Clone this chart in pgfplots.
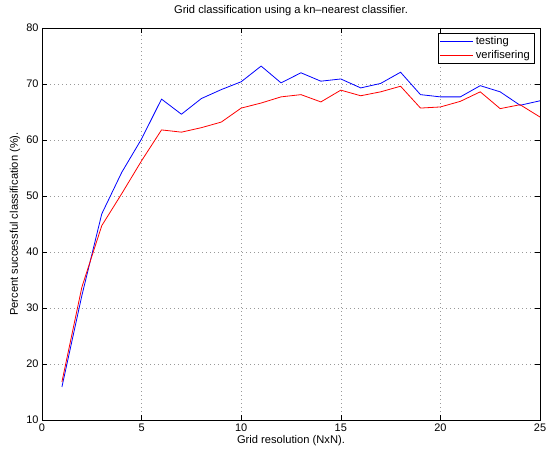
\documentclass[border=0pt]{standalone}
\usepackage{fontspec}
\setmainfont{Liberation Sans}
\usepackage{pgfplots}
\pgfplotsset{compat=1.18}
\pgfplotsset{
  bluelegline/.style={legend image code/.code={\draw[draw=blue, line width=0.8bp] (0bp,0bp) -- (33bp,0bp);}},
  redlegline/.style={legend image code/.code={\draw[draw=red, line width=0.8bp] (0bp,0bp) -- (33bp,0bp);}}
}
\begin{document}
\begin{tikzpicture}
\begin{axis}[
  scale only axis,
  width=498bp, height=392bp,
  xmin=0, xmax=25, ymin=10, ymax=80,
  xtick={0,5,...,25}, ytick={10,20,...,80},
  tick align=inside,
  xtick pos=both, ytick pos=both,
  major tick length=5bp,
  axis line style={line width=0.8bp},
  every tick/.style={black, line width=0.6bp},
  grid=major,
  grid style={gray!80, line width=0.6bp, dash pattern=on 1bp off 3bp},
  /pgf/number format/assume math mode=true,
  tick label style={font=\fontsize{11}{13}\selectfont},
  label style={font=\fontsize{11.2}{13}\selectfont},
  every axis title/.style={at={(axis description cs:0.5,1.0357)}, anchor=base, font=\fontsize{11.2}{13}\selectfont},
  title={Grid classification using a kn\textendash nearest classifier.},
  xlabel={Grid resolution (NxN).},
  ylabel={Percent successful classification (\%).},
  xlabel style={at={(axis description cs:0.5,-0.0536)}, anchor=center},
  ylabel style={at={(axis description cs:-0.054,0.5)}, anchor=center},
  legend style={at={(rel axis cs:1,1)}, anchor=north east, xshift=-6bp, yshift=-5bp,
    font=\fontsize{11.2}{13}\selectfont,
    inner xsep=2bp, inner ysep=1.5bp, row sep=0bp},
  legend cell align=left,
]
\addplot[draw=blue, line width=0.8bp, bluelegline] coordinates {
(1,15.9) (2,32.2) (3,46.8) (4,54.2) (5,60.2) (6,67.3) (7,64.6) (8,67.4) (9,69.0) (10,70.4)
(11,73.2) (12,70.2) (13,72.0) (14,70.5) (15,70.9) (16,69.3) (17,70.1) (18,72.1) (19,68.1) (20,67.7)
(21,67.7) (22,69.7) (23,68.6) (24,66.2) (25,67.0)};
\addlegendentry{testing}
\addplot[draw=red, line width=0.8bp, redlegline] coordinates {
(1,16.8) (2,33.7) (3,44.7) (4,50.4) (5,56.3) (6,61.8) (7,61.4) (8,62.2) (9,63.2) (10,65.7)
(11,66.6) (12,67.7) (13,68.1) (14,66.8) (15,68.9) (16,67.9) (17,68.6) (18,69.6) (19,65.7) (20,65.9)
(21,66.9) (22,68.6) (23,65.6) (24,66.3) (25,64.1)};
\addlegendentry{verifisering}
\end{axis}
\pgfresetboundingbox
\useasboundingbox ([xshift=-42bp,yshift=-31bp]current axis.south west) rectangle ([xshift=6bp,yshift=28bp]current axis.north east);
\end{tikzpicture}
\end{document}
